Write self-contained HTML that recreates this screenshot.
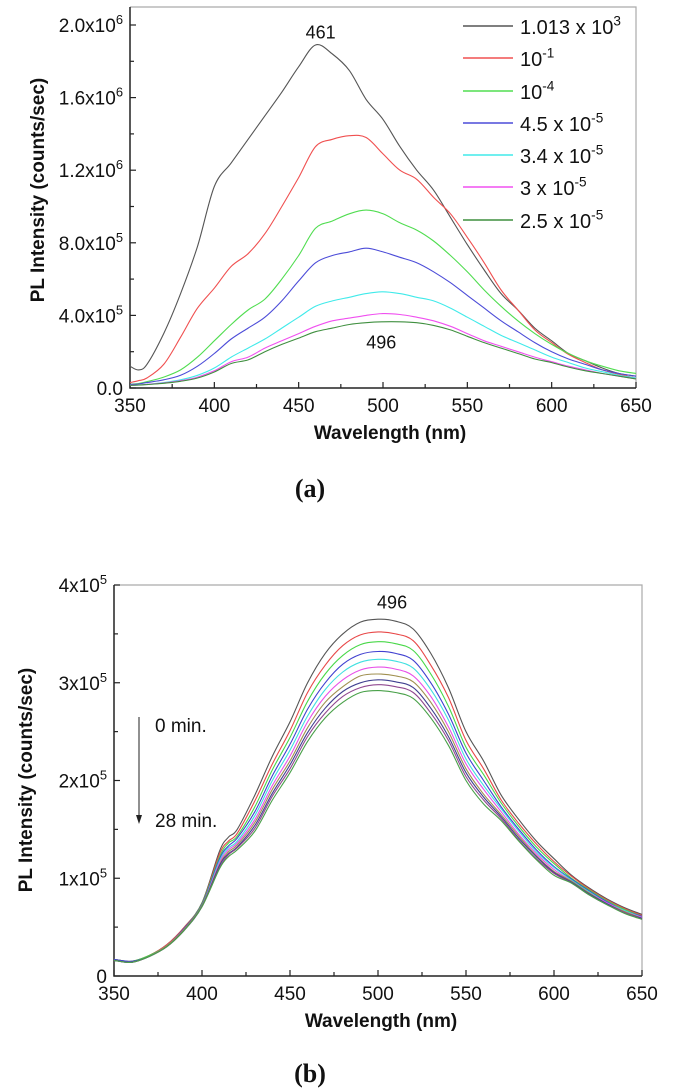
<!DOCTYPE html>
<html><head><meta charset="utf-8"><style>
html,body{margin:0;padding:0;background:#fff;}
svg{display:block;font-family:"Liberation Sans",Arial,sans-serif;}
</style></head><body>
<svg id="fig" width="679" height="1091" viewBox="0 0 679 1091" xmlns="http://www.w3.org/2000/svg">
<rect width="679" height="1091" fill="#fff"/>
<g id="chartA"></g>
<g id="chartB"></g>
</svg>
<script>
// ---------- Chart (a) data (intensity in 1e5 counts/sec) ----------
const wlA = [350,355,360,370,380,390,400,410,420,430,440,450,460,470,480,490,500,510,520,530,540,550,560,570,580,590,600,610,620,630,640,650];
const aBlack = [1.2,1.0,1.3,3.0,5.2,7.8,11.1,12.4,13.7,15.0,16.3,17.7,18.9,18.4,17.5,15.9,14.8,13.3,12.0,10.9,9.4,7.9,6.5,5.2,4.3,3.3,2.6,1.9,1.5,1.1,0.8,0.65];
const aRed = [0.3,0.4,0.55,1.3,2.8,4.4,5.5,6.7,7.4,8.5,10.0,11.6,13.3,13.7,13.9,13.8,12.9,12.0,11.5,10.5,9.6,8.3,6.9,5.4,4.3,3.2,2.5,1.85,1.4,1.0,0.75,0.55];
const aGreen = [0.2,0.25,0.35,0.6,1.0,1.7,2.6,3.5,4.3,4.9,6.0,7.3,8.8,9.2,9.6,9.8,9.6,9.1,8.7,8.1,7.3,6.4,5.4,4.5,3.7,3.0,2.4,1.9,1.5,1.2,0.95,0.8];
const aBlue = [0.2,0.22,0.3,0.45,0.7,1.2,1.9,2.7,3.3,3.9,4.8,5.9,6.9,7.3,7.5,7.7,7.5,7.2,6.9,6.4,5.8,5.1,4.4,3.7,3.1,2.5,2.0,1.6,1.3,1.0,0.8,0.65];
const aCyan = [0.15,0.17,0.2,0.3,0.45,0.7,1.1,1.7,2.2,2.7,3.3,3.9,4.5,4.8,5.0,5.2,5.3,5.2,5.0,4.8,4.4,3.9,3.4,2.9,2.5,2.1,1.7,1.4,1.1,0.9,0.7,0.55];
const aMagenta = [0.15,0.17,0.2,0.28,0.4,0.6,0.95,1.45,1.7,2.2,2.6,3.0,3.4,3.7,3.85,4.0,4.1,4.05,3.9,3.7,3.4,3.0,2.6,2.3,2.0,1.7,1.45,1.2,1.0,0.8,0.65,0.5];
const aOlive = [0.15,0.16,0.19,0.26,0.37,0.55,0.88,1.35,1.55,2.0,2.4,2.75,3.1,3.3,3.5,3.6,3.65,3.65,3.6,3.45,3.2,2.85,2.5,2.2,1.9,1.6,1.4,1.15,0.95,0.8,0.65,0.5];
const aLabels = ["1.013 x 10|3","10|-1","10|-4","4.5 x 10|-5","3.4 x 10|-5","3 x 10|-5","2.5 x 10|-5"];
const aYTicks = [0,4,8,12,16,20];
const aYTickLabels = ["0.0","4.0x10|5","8.0x10|5","1.2x10|6","1.6x10|6","2.0x10|6"];
const xTicks = [350,400,450,500,550,600,650];

// ---------- Chart (b) data (intensity in 1e5 counts/sec), 0 -> 28 min ----------
const wlB = [350,360,370,380,390,400,410,415,420,430,440,450,460,470,480,490,500,510,520,530,540,550,560,570,580,590,600,610,620,630,640,650];
const b0 = [0.17,0.15,0.21,0.32,0.5,0.75,1.28,1.42,1.5,1.85,2.25,2.6,3.0,3.3,3.5,3.62,3.65,3.63,3.55,3.3,2.95,2.5,2.2,1.85,1.6,1.38,1.2,1.03,0.9,0.79,0.7,0.63];
const b1 = [0.17,0.15,0.21,0.32,0.5,0.74,1.25,1.38,1.46,1.79,2.17,2.51,2.9,3.18,3.38,3.49,3.52,3.5,3.43,3.18,2.85,2.41,2.12,1.8,1.56,1.35,1.17,1.02,0.89,0.78,0.69,0.62];
const b2 = [0.17,0.15,0.21,0.31,0.49,0.74,1.22,1.36,1.43,1.73,2.11,2.44,2.81,3.09,3.28,3.39,3.42,3.4,3.33,3.09,2.76,2.34,2.06,1.77,1.53,1.32,1.15,1.0,0.88,0.77,0.68,0.61];
const b3 = [0.17,0.15,0.2,0.31,0.49,0.73,1.2,1.33,1.41,1.68,2.05,2.37,2.73,3.0,3.19,3.29,3.32,3.3,3.23,3.0,2.68,2.28,2.0,1.73,1.5,1.29,1.12,0.99,0.87,0.76,0.67,0.61];
const b4 = [0.16,0.14,0.2,0.31,0.48,0.72,1.18,1.31,1.38,1.64,2.0,2.31,2.66,2.93,3.11,3.21,3.24,3.22,3.15,2.93,2.62,2.22,1.95,1.71,1.48,1.27,1.11,0.98,0.86,0.75,0.67,0.6];
const b5 = [0.16,0.14,0.2,0.31,0.48,0.72,1.16,1.29,1.36,1.6,1.95,2.25,2.6,2.86,3.03,3.13,3.16,3.14,3.07,2.86,2.55,2.17,1.91,1.68,1.45,1.25,1.09,0.97,0.85,0.75,0.66,0.6];
const b6 = [0.16,0.14,0.2,0.31,0.48,0.72,1.14,1.27,1.34,1.57,1.91,2.2,2.54,2.8,2.96,3.07,3.09,3.07,3.01,2.8,2.5,2.12,1.86,1.65,1.43,1.23,1.07,0.97,0.85,0.74,0.66,0.59];
const b7 = [0.16,0.14,0.2,0.3,0.47,0.71,1.13,1.25,1.32,1.54,1.87,2.16,2.49,2.74,2.91,3.0,3.03,3.01,2.95,2.74,2.45,2.08,1.83,1.63,1.41,1.22,1.06,0.96,0.84,0.74,0.65,0.59];
const b8 = [0.16,0.14,0.2,0.3,0.47,0.71,1.11,1.24,1.31,1.51,1.84,2.12,2.45,2.69,2.86,2.95,2.98,2.96,2.9,2.69,2.41,2.04,1.8,1.61,1.39,1.2,1.05,0.95,0.83,0.73,0.65,0.58];
const b9 = [0.16,0.14,0.2,0.3,0.47,0.71,1.1,1.22,1.29,1.48,1.8,2.08,2.4,2.64,2.8,2.9,2.92,2.9,2.84,2.64,2.36,2.0,1.76,1.59,1.38,1.19,1.03,0.95,0.83,0.73,0.64,0.58];
const bYTicks = [0,1,2,3,4];
const bYTickLabels = ["0","1x10|5","2x10|5","3x10|5","4x10|5"];

const NS = "http://www.w3.org/2000/svg";
function mk(parent, tag, attrs){
  const e = document.createElementNS(NS, tag);
  for (const k in attrs) e.setAttribute(k, attrs[k]);
  parent.appendChild(e);
  return e;
}
function supText(parent, x, y, str, size, anchor){
  const parts = str.split("|");
  const t = mk(parent, "text", {x:x, y:y, "font-size":size, "text-anchor":anchor, fill:"#111"});
  t.appendChild(document.createTextNode(parts[0]));
  if (parts[1] !== undefined){
    const s = mk(t, "tspan", {dy:-size*0.42, "font-size":size*0.68});
    s.textContent = parts[1];
  }
  return t;
}
// smooth path (Catmull-Rom to cubic Bezier)
function pathFrom(xs, ys, xf, yf){
  const P = xs.map((v,i)=>[xf(v), yf(ys[i])]);
  let d = "M" + P[0][0].toFixed(1) + "," + P[0][1].toFixed(1);
  for (let i=0;i<P.length-1;i++){
    const p0 = P[Math.max(0,i-1)], p1 = P[i], p2 = P[i+1], p3 = P[Math.min(P.length-1,i+2)];
    const c1x = p1[0] + (p2[0]-p0[0])/6, c1y = p1[1] + (p2[1]-p0[1])/6;
    const c2x = p2[0] - (p3[0]-p1[0])/6, c2y = p2[1] - (p3[1]-p1[1])/6;
    d += "C" + c1x.toFixed(1) + "," + c1y.toFixed(1) + " " + c2x.toFixed(1) + "," + c2y.toFixed(1) + " " + p2[0].toFixed(1) + "," + p2[1].toFixed(1);
  }
  return d;
}

function drawAxes(g, o){
  const fr = mk(g, "path", {d:`M${o.L},${o.T}H${o.R}V${o.B}`, fill:"none", stroke:"#aaa", "stroke-width":1.2});
  
  
  const ax = mk(g, "path", {d:`M${o.L},${o.T}V${o.B}H${o.R}`, fill:"none", stroke:"#222", "stroke-width":1.5});
  
  
  for (let v=350; v<=650; v+=25){
    const major = v%50===0;
    const x = o.x(v);
    const t = mk(g, "line", {x1:x, x2:x, y1:o.B, y2:o.B-(major?6:4), stroke:"#222", "stroke-width":1.2});
    
    
  }
  xTicks.forEach(v=>{
    const t = supText(g, o.x(v), o.B+24, String(v), 19, "middle");
    
    
  });
  for (let v=0; v<=o.yMaxTick+1e-9; v+=o.minor){
    const y = o.y(v);
    const major = Math.abs(v/o.major - Math.round(v/o.major))<1e-6;
    const t = mk(g, "line", {x1:o.L, x2:o.L+(major?6:4), y1:y, y2:y, stroke:"#222", "stroke-width":1.2});
    
    
  }
  o.yTicks.forEach((v,i)=>{
    const t = supText(g, o.L-7, o.y(v)+7, o.yLabels[i], 19, "end");
    
    
  });
  const xt = mk(g, "text", {x:o.xtX, y:o.xtY, "font-size":19, "font-weight":"bold", "text-anchor":"middle", fill:"#111"});
  xt.textContent = "Wavelength (nm)";
  
  
  const yt = mk(g, "text", {x:0, y:0, "font-size":19, "font-weight":"bold", "text-anchor":"middle", fill:"#111", transform:`translate(${o.ytX},${o.ytY}) rotate(-90)`});
  yt.textContent = "PL Intensity (counts/sec)";
  
  
}

// ---------- Chart (a) ----------
(function(){
  const g = document.getElementById("chartA");
  const L=130,R=636,T=7,B=388;
  const x = v => L + (v-350)*(R-L)/300;
  const y = v => B - v*18.15;
  drawAxes(g, {L,R,T,B,x,y,major:4,minor:2,yMaxTick:20,yTicks:aYTicks,yLabels:aYTickLabels,xtX:390,xtY:439,ytX:44,ytY:190});
  const series = [aBlack,aRed,aGreen,aBlue,aCyan,aMagenta,aOlive];
  const colors = ["#555555","#f05050","#50dd50","#4c4cd8","#40eaea","#f050f0","#3f8f3f"];
  const names = ["black","red","green","blue","cyan","magenta","olive"];
  series.forEach((s,i)=>{
    const p = mk(g, "path", {d:pathFrom(wlA, s, x, y), fill:"none", stroke:colors[i], "stroke-width":1.1});
    
    
  });
  const rows = [26,58,91,123,155,187,220];
  aLabels.forEach((lab,i)=>{
    const ln = mk(g, "line", {x1:463, x2:513, y1:rows[i], y2:rows[i], stroke:colors[i], "stroke-width":1.4});
    
    
    const t = supText(g, 520, rows[i]+8, lab, 20, "start");
    
    
  });
  const a1 = mk(g, "text", {x:x(463), y:y(19.6)+6, "font-size":18, "text-anchor":"middle", fill:"#111"});
  a1.textContent = "461";
  
  
  const a2 = mk(g, "text", {x:x(499), y:y(2.5)+6, "font-size":18, "text-anchor":"middle", fill:"#111"});
  a2.textContent = "496";
  
  
  const lab = mk(g, "text", {x:310, y:497, "font-size":26, "font-weight":"bold", "font-family":"Liberation Serif, serif", "text-anchor":"middle", fill:"#111"});
  lab.textContent = "(a)";
  
  
})();

// ---------- Chart (b) ----------
(function(){
  const g = document.getElementById("chartB");
  const L=114,R=642,T=585,B=976;
  const x = v => L + (v-350)*(R-L)/300;
  const y = v => B - v*97.75;
  drawAxes(g, {L,R,T,B,x,y,major:1,minor:0.5,yMaxTick:4,yTicks:bYTicks,yLabels:bYTickLabels,xtX:381,xtY:1027,ytX:32,ytY:780});
  const series = [b0,b1,b2,b3,b4,b5,b6,b7,b8,b9];
  const colors = ["#555555","#e84848","#48d848","#4040d0","#40e0e0","#e850e8","#a09050","#404090","#904890","#48a048"];
  series.forEach((s,i)=>{
    const p = mk(g, "path", {d:pathFrom(wlB, s, x, y), fill:"none", stroke:colors[i], "stroke-width":1.1});
    
    
  });
  const ar = mk(g, "line", {x1:139, x2:139, y1:717, y2:818, stroke:"#222", "stroke-width":1});
  
  
  const ah = mk(g, "path", {d:"M136,815L142,815L139,824Z", fill:"#222"});
  
  
  const t0 = mk(g, "text", {x:155, y:732, "font-size":19, fill:"#111"});
  t0.textContent = "0 min.";
  
  
  const t1 = mk(g, "text", {x:155, y:827, "font-size":19, fill:"#111"});
  t1.textContent = "28 min.";
  
  
  const a = mk(g, "text", {x:x(508), y:y(3.82)+6, "font-size":18, "text-anchor":"middle", fill:"#111"});
  a.textContent = "496";
  
  
  const lab = mk(g, "text", {x:310, y:1082, "font-size":26, "font-weight":"bold", "font-family":"Liberation Serif, serif", "text-anchor":"middle", fill:"#111"});
  lab.textContent = "(b)";
  
  
})();
</script>
</body></html>
